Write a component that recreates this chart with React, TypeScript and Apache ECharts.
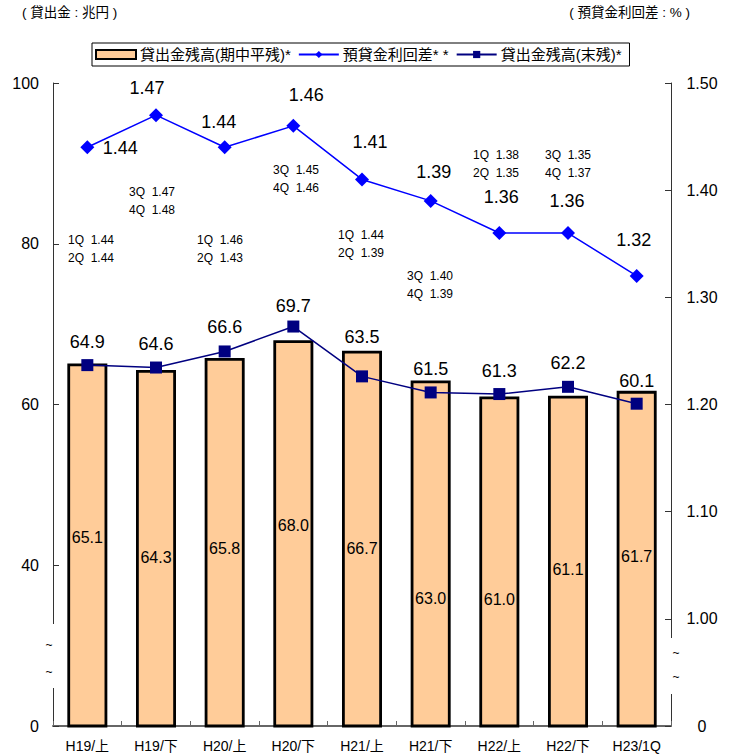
import React, { useEffect, useRef } from "react";
import * as echarts from "echarts";

// ---------- data ----------
const categories = ["H19/上", "H19/下", "H20/上", "H20/下", "H21/上", "H21/下", "H22/上", "H22/下", "H23/1Q"];
const avgBalance = [65.1, 64.3, 65.8, 68.0, 66.7, 63.0, 61.0, 61.1, 61.7]; // 貸出金残高(期中平残)
const endBalance = [64.9, 64.6, 66.6, 69.7, 63.5, 61.5, 61.3, 62.2, 60.1]; // 貸出金残高(末残)
const spread = [1.44, 1.47, 1.44, 1.46, 1.41, 1.39, 1.36, 1.36, 1.32]; // 預貸金利回差
const quarterNotes = [
  "1Q  1.44\n2Q  1.44",
  "3Q  1.47\n4Q  1.48",
  "1Q  1.46\n2Q  1.43",
  "3Q  1.45\n4Q  1.46",
  "1Q  1.44\n2Q  1.39",
  "3Q  1.40\n4Q  1.39",
  "1Q  1.38\n2Q  1.35",
  "3Q  1.35\n4Q  1.37",
];
const seriesNames = ["貸出金残高(期中平残)*", "預貸金利回差* *", "貸出金残高(末残)*"];
const leftTitle = "( 貸出金 : 兆円 )";
const rightTitle = "( 預貸金利回差 : % )";
const leftBreakLabel = "0";
const rightBreakLabel = "0";

// ---------- layout (positions / offsets) ----------
const notePos = [
  [68, 231], [129, 183], [197, 231], [273, 161], [338, 226], [407, 267], [473, 146], [545, 146],
];
const barLabelDy = [174, 188, 191, 185, 198, 218, 203, 174, 166];
const endLabelDy = [-23, -24, -24, -21, -39, -23, -23, -24, -23];
const spreadLabelOffset = [
  [33, 1], [-9, -27], [-6, -25], [13, -31], [8, -37], [3, -29], [2, -36], [-1, -32], [-3, -36],
];

const FONT = "'Liberation Sans', Arial, 'Noto Sans CJK JP', sans-serif";

export default function App() {
  const ref = useRef<HTMLDivElement>(null);
  useEffect(() => {
    document.body.style.margin = "0";
    const chart = echarts.init(ref.current!, null, { renderer: "svg" });
    const axisCommon = {
      axisLine: { show: true, lineStyle: { color: "#333", width: 1 } },
      axisTick: { show: true, inside: true, length: 6, lineStyle: { color: "#333" } },
      splitLine: { show: false },
    };
    const option: any = {
      animation: false,
      backgroundColor: "#fff",
      textStyle: { fontFamily: FONT },
      grid: { left: 53, right: 65, top: 83, bottom: 29, containLabel: false },
      legend: {
        left: 92,
        top: 43,
        padding: [4, 8, 4, 3],
        itemGap: 7,
        itemWidth: 40,
        itemHeight: 9,
        borderColor: "#000",
        borderWidth: 1,
        textStyle: { fontSize: 15, color: "#000", fontFamily: FONT, padding: [0, 0, 0, -1] },
        data: [
          { name: seriesNames[0], icon: "rect" },
          { name: seriesNames[1] },
          { name: seriesNames[2] },
        ],
      },
      xAxis: {
        type: "category",
        data: categories,
        axisLine: { show: true, lineStyle: { color: "#666", width: 2 } },
        axisTick: { show: true, inside: true, length: 5, lineStyle: { color: "#666" } },
        axisLabel: { fontSize: 14, color: "#000", margin: 13, fontFamily: FONT },
      },
      yAxis: [
        {
          type: "value",
          position: "left",
          min: 20,
          max: 100,
          interval: 20,
          ...axisCommon,
          axisLabel: {
            fontSize: 16,
            color: "#000",
            margin: 14,
            fontFamily: FONT,
            formatter: (v: number) => (v === 20 ? leftBreakLabel : String(v)),
          },
        },
        {
          type: "value",
          position: "right",
          min: 0.9,
          max: 1.5,
          interval: 0.1,
          ...axisCommon,
          axisLabel: {
            fontSize: 16,
            color: "#000",
            margin: 31,
            align: "center",
            fontFamily: FONT,
            formatter: (v: number) => (Math.abs(v - 0.9) < 1e-6 ? rightBreakLabel : v.toFixed(2)),
          },
        },
      ],
      series: [
        {
          name: seriesNames[0],
          type: "bar",
          yAxisIndex: 0,
          barWidth: 40,
          itemStyle: { color: "#FFCC99", borderColor: "#000", borderWidth: 2.8 },
          label: {
            show: true,
            fontSize: 16,
            color: "#000",
            fontFamily: FONT,
            align: "center",
            verticalAlign: "middle",
            formatter: (p: any) => Number(p.value).toFixed(1),
          },
          data: avgBalance.map((v, i) => ({ value: v, label: { position: ["50%", barLabelDy[i]] } })),
          z: 2,
        },
        {
          name: seriesNames[1],
          type: "line",
          yAxisIndex: 1,
          symbol: "diamond",
          symbolSize: 14,
          color: "#0000FF",
          itemStyle: { color: "#0000FF" },
          lineStyle: { color: "#0000FF", width: 1.5 },
          label: {
            show: true,
            position: "inside",
            fontSize: 18,
            color: "#000",
            fontFamily: FONT,
            formatter: (p: any) => Number(p.value).toFixed(2),
          },
          data: spread.map((v, i) => ({ value: v, label: { offset: spreadLabelOffset[i] } })),
          z: 4,
        },
        {
          name: seriesNames[2],
          type: "line",
          yAxisIndex: 0,
          symbol: "rect",
          symbolSize: 12,
          color: "#000080",
          itemStyle: { color: "#000080" },
          lineStyle: { color: "#000080", width: 1.5 },
          label: {
            show: true,
            position: "inside",
            fontSize: 18,
            color: "#000",
            fontFamily: FONT,
            formatter: (p: any) => Number(p.value).toFixed(1),
          },
          data: endBalance.map((v, i) => ({ value: v, label: { offset: [0, endLabelDy[i]] } })),
          z: 4,
        },
      ],
      graphic: [
        {
          type: "text",
          left: 22,
          top: 6,
          style: { text: leftTitle, fontSize: 13.5, fill: "#000", fontFamily: FONT },
        },
        {
          type: "text",
          right: 46,
          top: 6,
          style: { text: rightTitle, fontSize: 13.5, fill: "#000", fontFamily: FONT },
        },
        ...quarterNotes.map((t, i) => ({
          type: "text",
          x: notePos[i][0],
          y: notePos[i][1],
          z: 10,
          style: {
            text: t,
            fontSize: 12,
            lineHeight: 18,
            fill: "#000",
            fontFamily: FONT,
            verticalAlign: "top",
          },
        })),
        // axis break marks
        { type: "rect", shape: { x: 49, y: 624, width: 8, height: 64 }, style: { fill: "#fff" }, z: 20 },
        { type: "rect", shape: { x: 667, y: 638, width: 8, height: 56 }, style: { fill: "#fff" }, z: 20 },
        ...[
          [49, 645],
          [49, 672],
          [676, 653],
          [676, 677],
        ].map(([x, y]) => ({
          type: "text",
          x,
          y,
          z: 21,
          style: { text: "~", fontSize: 12, fill: "#000", fontFamily: FONT, align: "center", verticalAlign: "middle" },
        })),
      ],
    };
    chart.setOption(option);
    return () => chart.dispose();
  }, []);
  return <div ref={ref} style={{ width: 736, height: 755 }} />;
}
